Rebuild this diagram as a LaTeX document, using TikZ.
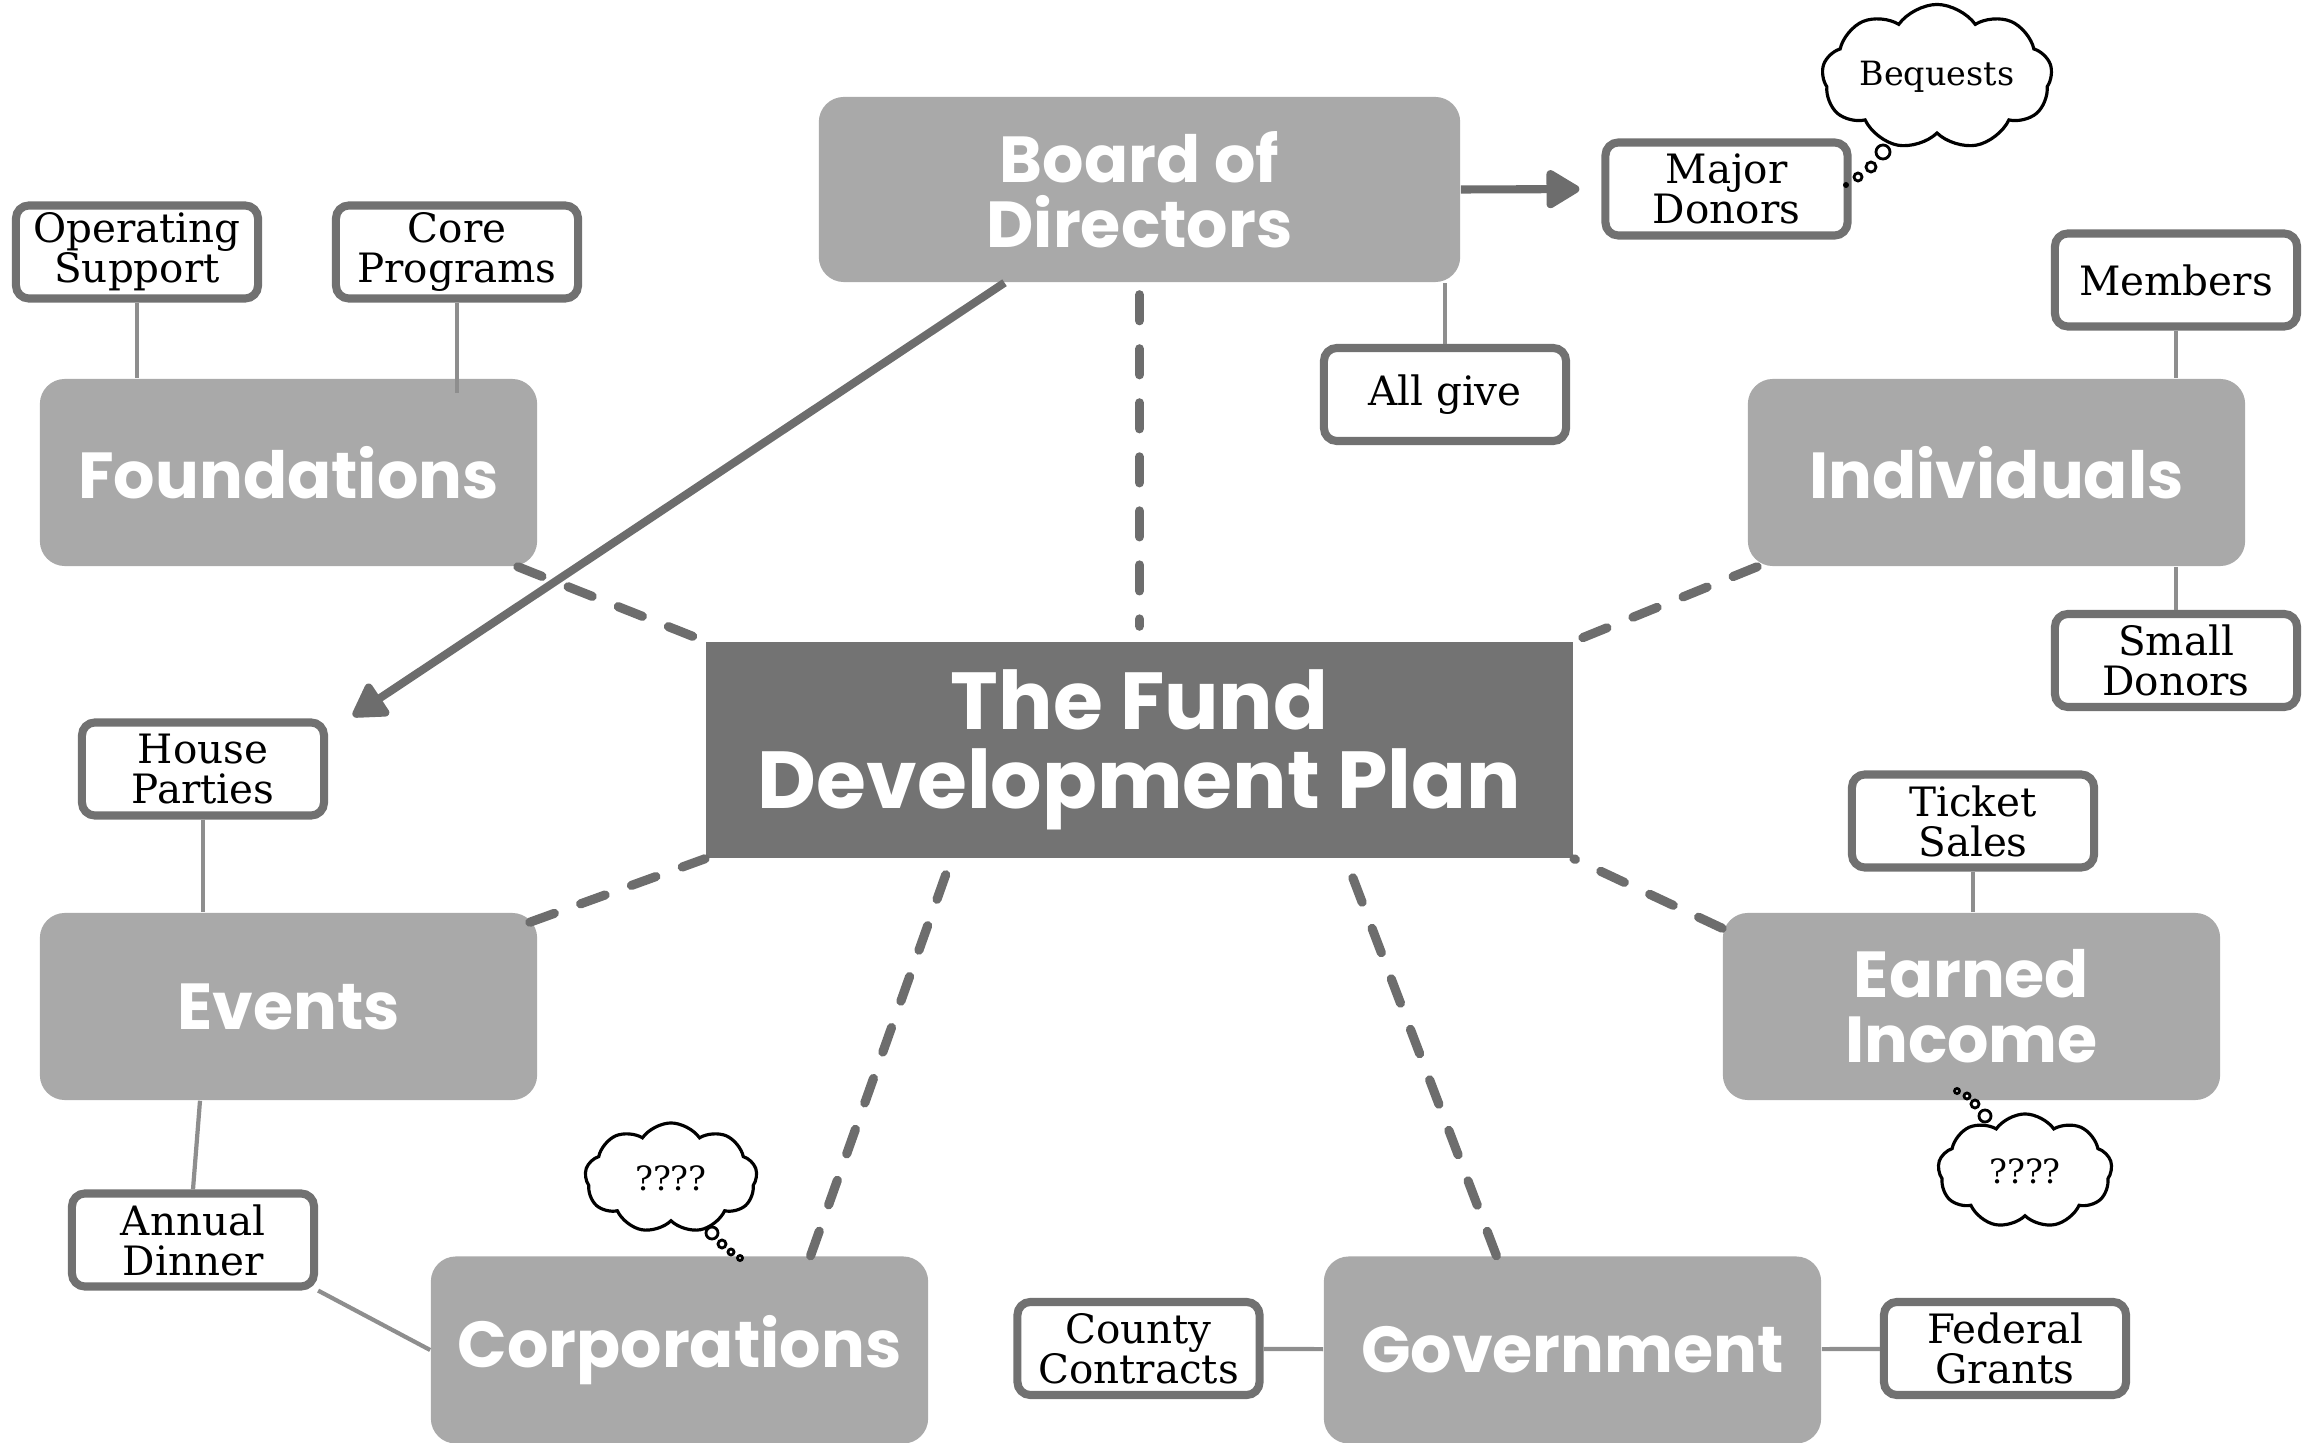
\documentclass[tikz,border=0pt]{standalone}
\usepackage{fontspec}
\setmainfont{DejaVu Serif}
\newfontfamily\headfont{Poppins}
\usetikzlibrary{shapes.symbols,arrows.meta,calc}

\definecolor{boxgray}{HTML}{A9A9A9}
\definecolor{plangray}{HTML}{737373}
\definecolor{rimgray}{HTML}{717171}
\definecolor{linkgray}{HTML}{8E8E8E}
\definecolor{dashgray}{HTML}{6D6D6D}

\begin{document}
\begin{tikzpicture}[x=0.01cm,y=-0.01cm,
    topic/.style={fill=boxgray, rounded corners=0.25cm, minimum width=4.97cm, minimum height=1.87cm,
      align=center, text=white, font=\headfont\bfseries\fontsize{18.5}{18.5}\selectfont},
    centrebox/.style={fill=plangray, minimum width=8.67cm, minimum height=2.16cm,
      align=center, text=white, font=\headfont\bfseries\fontsize{23}{22.5}\selectfont},
    item/.style={draw=rimgray, line width=2.3pt, fill=white, rounded corners=0.13cm, minimum width=2.42cm,
      minimum height=0.93cm, inner sep=1pt, align=center, font=\fontsize{11.5}{11.4}\selectfont},
    link/.style={draw=linkgray, line width=1.2pt},
    spoke/.style={draw=dashgray, line width=2.6pt, line cap=round, dash pattern=on 0.26cm off 0.28cm},
    arrowline/.style={draw=dashgray, line width=2.3pt, -{Triangle[length=0.37cm,width=0.42cm,round]}},
    thought/.style={cloud, cloud puffs=9, cloud puff arc=110, cloud ignores aspect, draw=black, line width=0.9pt,
      fill=white, align=center, inner sep=0pt, font=\fontsize{9.5}{10}\selectfont},
    bubble/.style={draw=black, line width=0.8pt, fill=white}]
    \useasboundingbox (0,0) rectangle (2305,1443);

    % centre and main sources
    \node[centrebox] (plan) at (1139.5,750) {The Fund\\Development Plan};
    \node[topic, minimum width=6.41cm, minimum height=1.85cm] (board) at (1139.5,189.5) {Board of\\Directors};
    \node[topic] (found) at (288.5,472.5) {Foundations};
    \node[topic] (indiv) at (1996.5,472.5) {Individuals};
    \node[topic] (events) at (288.5,1006.5) {Events};
    \node[topic] (earned) at (1971.5,1006.5) {Earned\\Income};
    \node[topic] (corp) at (679.5,1350) {Corporations};
    \node[topic] (gov) at (1572.5,1350) {Government};

    % details
    \node[item] (opsup) at (137,252) {Operating\\Support};
    \node[item] (core) at (457,252) {Core\\Programs};
    \node[item] (major) at (1726.5,189) {Major\\Donors};
    \node[item] (allgive) at (1445,394.5) {All give};
    \node[item] (members) at (2176,280) {Members};
    \node[item] (smalld) at (2176,660.5) {Small\\Donors};
    \node[item] (house) at (203,769) {House\\Parties};
    \node[item] (ticket) at (1973,821) {Ticket\\Sales};
    \node[item] (dinner) at (193,1240) {Annual\\Dinner};
    \node[item] (county) at (1138.5,1348.5) {County\\Contracts};
    \node[item] (federal) at (2005,1348.5) {Federal\\Grants};

    % thought clouds
    \node[thought, minimum width=2.3cm, minimum height=1.45cm] (bequests) at (1937,77) {Bequests};
    \node[thought, minimum width=1.72cm, minimum height=1.1cm] (corpq) at (671,1178) {????};
    \node[thought, minimum width=1.74cm, minimum height=1.14cm] (earnq) at (2025,1171) {????};
    \draw[bubble] (1883,152) circle[radius=0.07cm];
    \draw[bubble] (1871,167) circle[radius=0.05cm];
    \draw[bubble] (1858,177) circle[radius=0.04cm];
    \fill[black] (1846,185) circle[radius=0.03cm];
    \draw[bubble] (712,1233) circle[radius=0.06cm];
    \draw[bubble] (722,1244) circle[radius=0.04cm];
    \draw[bubble] (731,1252) circle[radius=0.03cm];
    \draw[bubble] (740,1258) circle[radius=0.025cm];
    \draw[bubble] (1985,1116) circle[radius=0.06cm];
    \draw[bubble] (1975,1104) circle[radius=0.04cm];
    \draw[bubble] (1967,1096) circle[radius=0.03cm];
    \draw[bubble] (1957,1091) circle[radius=0.025cm];

    % arrows from the board
    \coordinate (evtip) at (353,716);
    \draw[arrowline, shorten >=0.22cm] (board.east) -- (major.west);
    \draw[arrowline] ($(board.south west)!0.29!(board.south east)$) -- (evtip);

    % dashed spokes
    \draw[spoke, shorten <=0.12cm, shorten >=0.15cm] (board.south) -- (plan.north);
    \draw[spoke] ([xshift=-0.2cm]found.south east) -- (plan.north west);
    \draw[spoke] ([xshift=0.1cm]indiv.south west) -- (plan.north east);
    \draw[spoke] ([shift={(-0.08cm,-0.1cm)}]events.north east) -- (plan.south west);
    \draw[spoke] ([yshift=-0.16cm]earned.north west) -- (plan.south east);
    \draw[spoke] ([xshift=1.31cm]corp.north) -- ([xshift=-1.88cm]plan.south);
    \draw[spoke] ([xshift=-0.76cm]gov.north) -- ([xshift=2.06cm]plan.south);

    % plain links
    \draw[link] (opsup.south) -- (opsup.south |- found.north);
    \draw[link] (core.south) -- ([yshift=-0.15cm]core.south |- found.north);
    \draw[link] (allgive.north) -- (allgive.north |- board.south);
    \draw[link] (members.south) -- (members.south |- indiv.north);
    \draw[link] (smalld.north |- indiv.south) -- (smalld.north);
    \draw[link] (house.south) -- (house.south |- events.north);
    \draw[link] (ticket.south) -- (ticket.south |- earned.north);
    \draw[link] ([xshift=0.07cm]dinner.north |- events.south) -- (dinner.north);
    \draw[link] (dinner.south east) -- (corp.west);
    \draw[link] (county) -- (gov);
    \draw[link] (gov) -- (federal);
\end{tikzpicture}
\end{document}
